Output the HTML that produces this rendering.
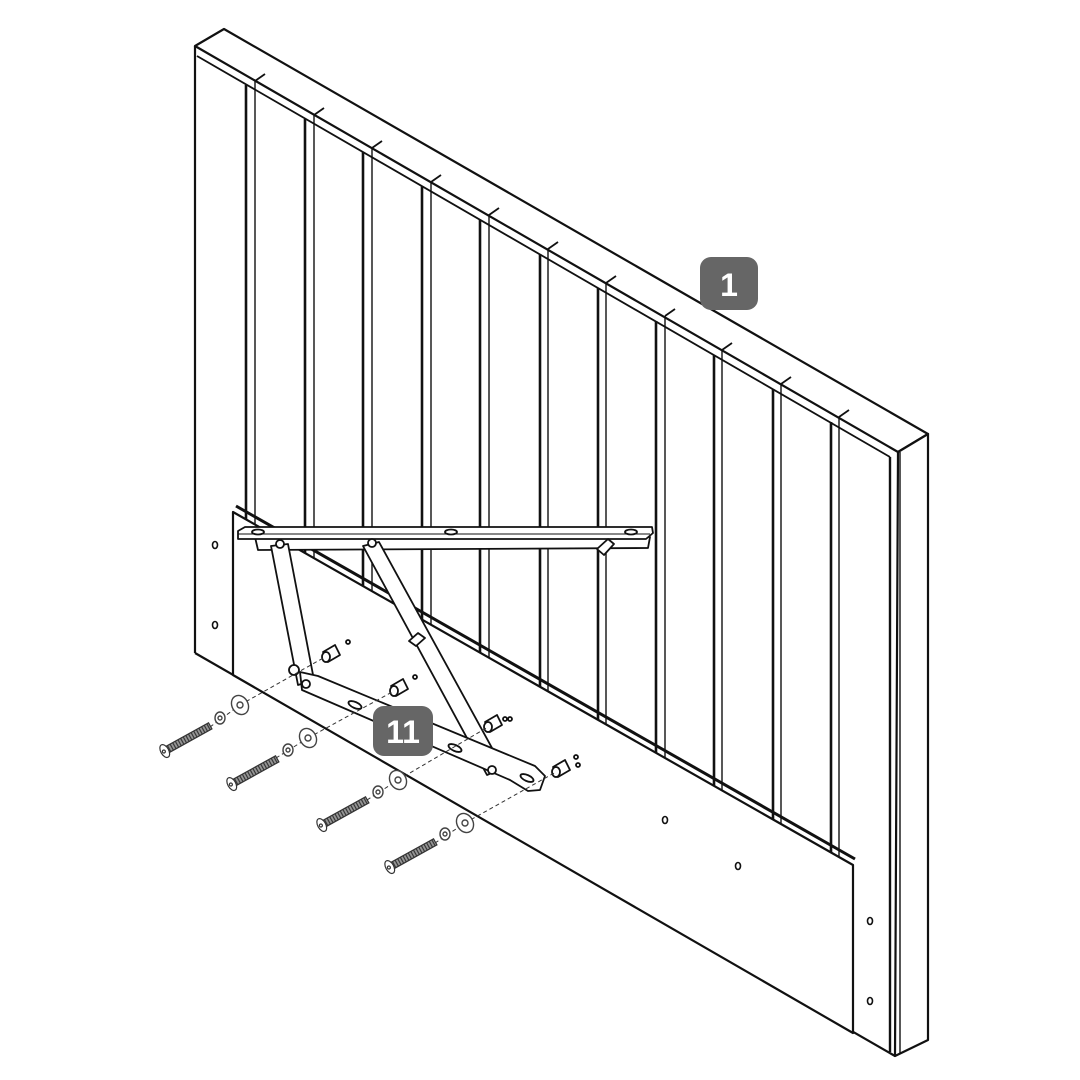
<!DOCTYPE html>
<html><head><meta charset="utf-8"><style>
html,body{margin:0;padding:0;background:#fff;width:1080px;height:1080px;overflow:hidden}
.lbl{font-family:"Liberation Sans",sans-serif;font-weight:bold;fill:#fff}
</style></head><body>
<svg width="1080" height="1080" viewBox="0 0 1080 1080" xmlns="http://www.w3.org/2000/svg">
<defs>
<pattern id="thr" width="3" height="8" patternUnits="userSpaceOnUse"><rect width="3" height="8" fill="#999"/><line x1="1" y1="0" x2="1" y2="8" stroke="#333" stroke-width="1.2"/></pattern>
</defs>
<g fill="none" stroke="#111" stroke-width="2.2" stroke-linejoin="round">
<path d="M195,46 L224,29 L928,434 L898,452 Z" fill="#fff"/>
<line x1="195" y1="46" x2="195" y2="653"/>
<line x1="197" y1="56" x2="890" y2="457" stroke-width="1.8"/>
<path d="M898,452 L928,434 L928,1040 L895,1056 Z" fill="#fff"/>
<line x1="890" y1="457" x2="890" y2="1052" stroke-width="2.4"/>
<line x1="900" y1="452" x2="900" y2="1054" stroke-width="1.4"/>
<line x1="195" y1="653" x2="895" y2="1056"/>
</g>
<g fill="none" stroke="#111" stroke-width="1.8">
<line x1="246" y1="85" x2="246" y2="520" stroke-width="2.6"/><line x1="255" y1="81" x2="255" y2="525" stroke-width="1.4"/><line x1="255" y1="81" x2="265" y2="74"/>
<line x1="305" y1="119" x2="305" y2="553" stroke-width="2.6"/><line x1="314" y1="115" x2="314" y2="558" stroke-width="1.4"/><line x1="314" y1="115" x2="324" y2="108"/>
<line x1="363" y1="152" x2="363" y2="586" stroke-width="2.6"/><line x1="372" y1="148" x2="372" y2="591" stroke-width="1.4"/><line x1="372" y1="148" x2="382" y2="141"/>
<line x1="422" y1="186" x2="422" y2="620" stroke-width="2.6"/><line x1="431" y1="182" x2="431" y2="625" stroke-width="1.4"/><line x1="431" y1="182" x2="441" y2="175"/>
<line x1="480" y1="220" x2="480" y2="653" stroke-width="2.6"/><line x1="489" y1="215" x2="489" y2="658" stroke-width="1.4"/><line x1="489" y1="215" x2="499" y2="208"/>
<line x1="540" y1="254" x2="540" y2="687" stroke-width="2.6"/><line x1="548" y1="249" x2="548" y2="692" stroke-width="1.4"/><line x1="548" y1="249" x2="558" y2="242"/>
<line x1="598" y1="288" x2="598" y2="720" stroke-width="2.6"/><line x1="606" y1="283" x2="606" y2="725" stroke-width="1.4"/><line x1="606" y1="283" x2="616" y2="276"/>
<line x1="656" y1="321" x2="656" y2="753" stroke-width="2.6"/><line x1="665" y1="316" x2="665" y2="758" stroke-width="1.4"/><line x1="665" y1="316" x2="675" y2="309"/>
<line x1="714" y1="355" x2="714" y2="786" stroke-width="2.6"/><line x1="722" y1="350" x2="722" y2="791" stroke-width="1.4"/><line x1="722" y1="350" x2="732" y2="343"/>
<line x1="773" y1="389" x2="773" y2="820" stroke-width="2.6"/><line x1="781" y1="384" x2="781" y2="825" stroke-width="1.4"/><line x1="781" y1="384" x2="791" y2="377"/>
<line x1="831" y1="422" x2="831" y2="853" stroke-width="2.6"/><line x1="839" y1="417" x2="839" y2="858" stroke-width="1.4"/><line x1="839" y1="417" x2="849" y2="410"/>
</g>
<g stroke="#111" fill="#fff" stroke-width="2.2" stroke-linejoin="round">
<line x1="236" y1="506" x2="855" y2="859" stroke-width="3"/>
<path d="M233,512 L853,865 L853,1033 L233,675 Z"/>
</g>
<g fill="#fff" stroke="#111" stroke-width="1.6">
<ellipse cx="215" cy="545" rx="2.5" ry="3.5"/><ellipse cx="215" cy="625" rx="2.5" ry="3.5"/>
<ellipse cx="665" cy="820" rx="2.5" ry="3.5"/><ellipse cx="738" cy="866" rx="2.5" ry="3.5"/>
<ellipse cx="870" cy="921" rx="2.5" ry="3.5"/><ellipse cx="870" cy="1001" rx="2.5" ry="3.5"/>
</g>
<g stroke="#111" fill="#fff" stroke-width="1.8" stroke-linejoin="round">
<path d="M255,537 L650,537 L648,548 L258,550 Z"/>
<path d="M238,531 L245,527 L652,527 L653,533 L646,539 L238,539 Z"/>
<line x1="238" y1="534" x2="650" y2="534" stroke-width="1"/>
<ellipse cx="258" cy="532" rx="6" ry="2.5"/><ellipse cx="451" cy="532" rx="6" ry="2.5"/><ellipse cx="631" cy="532" rx="6" ry="2.5"/>
<path d="M597,549 L608,539 L614,544 L604,555 Z"/>
<path d="M271,546 L288,544 L314,680 L298,685 Z"/>
<path d="M363,546 L379,542 L503,768 L487,775 Z"/>
<path d="M300,672 L318,676 L535,766 L545,776 L540,790 L528,791 L510,780 L302,690 Z"/>
<ellipse cx="355" cy="705" rx="7" ry="3" transform="rotate(24 355 705)"/>
<ellipse cx="455" cy="748" rx="7" ry="3" transform="rotate(24 455 748)"/>
<ellipse cx="527" cy="778" rx="7" ry="3" transform="rotate(24 527 778)"/>
<circle cx="280" cy="544" r="4"/><circle cx="372" cy="543" r="4"/>
<circle cx="294" cy="670" r="5"/><circle cx="306" cy="684" r="4"/><circle cx="492" cy="770" r="4"/>
<path d="M409,641 L418,633 L425,638 L416,646 Z"/>
<path d="M323,652 L335,645 L340,655 L328,662 Z"/><ellipse cx="326" cy="657" rx="4" ry="5"/><circle cx="348" cy="642" r="2"/>
<path d="M391,686 L403,679 L408,689 L396,696 Z"/><ellipse cx="394" cy="691" rx="4" ry="5"/><circle cx="415" cy="677" r="2"/>
<path d="M485,722 L497,715 L502,725 L490,732 Z"/><ellipse cx="488" cy="727" rx="4" ry="5"/><circle cx="505" cy="719" r="2"/><circle cx="510" cy="719" r="2"/>
<path d="M553,767 L565,760 L570,770 L558,777 Z"/><ellipse cx="556" cy="772" rx="4" ry="5"/><circle cx="576" cy="757" r="2"/><circle cx="578" cy="765" r="2"/>
</g>
<g stroke="#333" stroke-width="1" stroke-dasharray="4,3" fill="none">
<line x1="240" y1="705" x2="325" y2="657"/>
<line x1="308" y1="738" x2="394" y2="691"/>
<line x1="398" y1="780" x2="488" y2="727"/>
<line x1="465" y1="823" x2="556" y2="772"/>
<line x1="210" y1="727" x2="240" y2="705"/>
<line x1="276" y1="758" x2="308" y2="738"/>
<line x1="367" y1="800" x2="398" y2="780"/>
<line x1="435" y1="843" x2="465" y2="823"/>
</g>
<g stroke="#444" fill="#fff" stroke-width="1.4">
<ellipse cx="240" cy="705" rx="8" ry="10" transform="rotate(-30 240 705)"/><circle cx="240" cy="705" r="3"/>
<ellipse cx="220" cy="718" rx="5" ry="6"/><circle cx="220" cy="718" r="2"/>
<ellipse cx="308" cy="738" rx="8" ry="10" transform="rotate(-30 308 738)"/><circle cx="308" cy="738" r="3"/>
<ellipse cx="288" cy="750" rx="5" ry="6"/><circle cx="288" cy="750" r="2"/>
<ellipse cx="398" cy="780" rx="8" ry="10" transform="rotate(-30 398 780)"/><circle cx="398" cy="780" r="3"/>
<ellipse cx="378" cy="792" rx="5" ry="6"/><circle cx="378" cy="792" r="2"/>
<ellipse cx="465" cy="823" rx="8" ry="10" transform="rotate(-30 465 823)"/><circle cx="465" cy="823" r="3"/>
<ellipse cx="445" cy="834" rx="5" ry="6"/><circle cx="445" cy="834" r="2"/>
</g>
<g stroke="#333" stroke-width="1.2">
<g transform="translate(163 752) rotate(-29)"><rect x="4" y="-3.5" width="50" height="7" fill="url(#thr)"/><ellipse cx="2" cy="0" rx="4" ry="7" fill="#fff"/><circle cx="1" cy="0" r="1.5" fill="#fff"/></g>
<g transform="translate(230 785) rotate(-29)"><rect x="4" y="-3.5" width="50" height="7" fill="url(#thr)"/><ellipse cx="2" cy="0" rx="4" ry="7" fill="#fff"/><circle cx="1" cy="0" r="1.5" fill="#fff"/></g>
<g transform="translate(320 826) rotate(-29)"><rect x="4" y="-3.5" width="50" height="7" fill="url(#thr)"/><ellipse cx="2" cy="0" rx="4" ry="7" fill="#fff"/><circle cx="1" cy="0" r="1.5" fill="#fff"/></g>
<g transform="translate(388 868) rotate(-29)"><rect x="4" y="-3.5" width="50" height="7" fill="url(#thr)"/><ellipse cx="2" cy="0" rx="4" ry="7" fill="#fff"/><circle cx="1" cy="0" r="1.5" fill="#fff"/></g>
</g>
<rect x="700" y="257" width="58" height="53" rx="11" fill="#666"/>
<text x="729" y="296" class="lbl" font-size="32" text-anchor="middle">1</text>
<rect x="373" y="706" width="60" height="50" rx="11" fill="#666"/>
<text x="403" y="743" class="lbl" font-size="32" text-anchor="middle">11</text>
</svg>
</body></html>
